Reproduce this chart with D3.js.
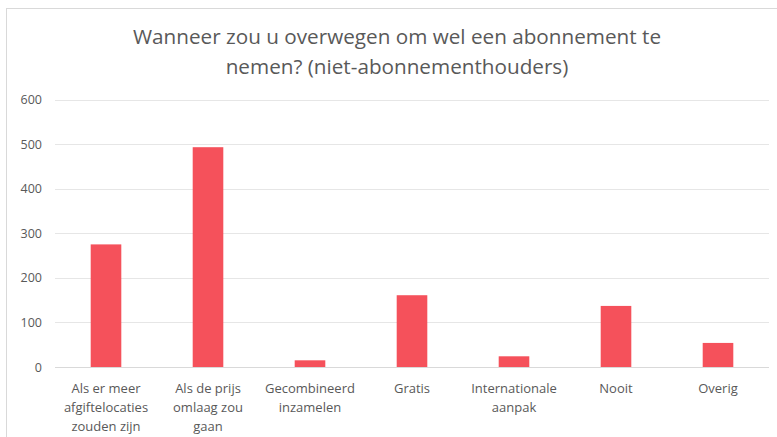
<!DOCTYPE html>
<html>
<head>
<meta charset="utf-8">
<script src="https://cdn.jsdelivr.net/npm/d3@7"></script>
<style>
  body { margin: 0; background: #fff; }
  text { font-family: "Open Sans", sans-serif; fill: #595959; }
</style>
</head>
<body>
<div id="chart"></div>
<script>
// data
var categories = [
  ["Als er meer", "afgiftelocaties", "zouden zijn"],
  ["Als de prijs", "omlaag zou", "gaan"],
  ["Gecombineerd", "inzamelen"],
  ["Gratis"],
  ["Internationale", "aanpak"],
  ["Nooit"],
  ["Overig"]
];
var values = [275, 493, 15, 161, 24, 137, 54];
var yTicks = [0, 100, 200, 300, 400, 500, 600];
var titleLines = ["Wanneer zou u overwegen om wel een abonnement te", "nemen? (niet-abonnementhouders)"];

var w = 777,
    h = 437;

var svg = d3.select("#chart").append("svg")
    .attr("width", w)
    .attr("height", h);

// chart frame (runs off the right and bottom edges)
svg.append("rect")
    .attr("x", 6.5)
    .attr("y", 8.5)
    .attr("width", 800)
    .attr("height", 450)
    .attr("fill", "#fff")
    .attr("stroke", "#d9d9d9")
    .attr("stroke-width", 1);

var plotLeft = 55, plotRight = 769, plotTop = 99.5, plotBottom = 367;

var x = d3.scaleBand()
    .domain(d3.range(categories.length))
    .range([plotLeft, plotRight])
    .paddingInner(0.7)
    .paddingOuter(0.35);

var y = d3.scaleLinear()
    .domain([0, 600])
    .range([plotBottom, plotTop]);

// gridlines
svg.append("g").selectAll("line")
    .data(yTicks)
  .enter().append("line")
    .attr("x1", plotLeft)
    .attr("x2", plotRight)
    .attr("y1", function(d){ return Math.round(y(d)) + 0.5; })
    .attr("y2", function(d){ return Math.round(y(d)) + 0.5; })
    .attr("stroke", function(d){ return d === 0 ? "#d9d9d9" : "#e6e6e6"; })
    .attr("stroke-width", 1);

// y tick labels
svg.append("g").selectAll("text")
    .data(yTicks)
  .enter().append("text")
    .text(function(d){ return d; })
    .attr("x", 42)
    .attr("y", function(d){ return y(d) + 4.5; })
    .attr("text-anchor", "end")
    .attr("font-size", 12.5);

// bars
svg.append("g").selectAll("rect")
    .data(values)
  .enter().append("rect")
    .attr("x", function(d, i){ return x(i); })
    .attr("y", function(d){ return y(d); })
    .attr("width", x.bandwidth())
    .attr("height", function(d){ return plotBottom - y(d); })
    .attr("fill", "#f5515b");

// category labels, one tspan per line
svg.append("g").selectAll("text")
    .data(categories)
  .enter().append("text")
    .attr("text-anchor", "middle")
    .attr("font-size", 13)
    .attr("y", 393)
    .each(function(lines, i){
      var cx = x(i) + x.bandwidth() / 2;
      d3.select(this).selectAll("tspan")
          .data(lines)
        .enter().append("tspan")
          .attr("x", cx)
          .attr("dy", function(d, j){ return j === 0 ? 0 : 19; })
          .text(function(d){ return d; });
    });

// title
svg.append("g").selectAll("text")
    .data(titleLines)
  .enter().append("text")
    .text(function(d){ return d; })
    .attr("x", 397)
    .attr("y", function(d, i){ return 44 + i * 30; })
    .attr("text-anchor", "middle")
    .attr("font-size", 20.7);
</script>
</body>
</html>
